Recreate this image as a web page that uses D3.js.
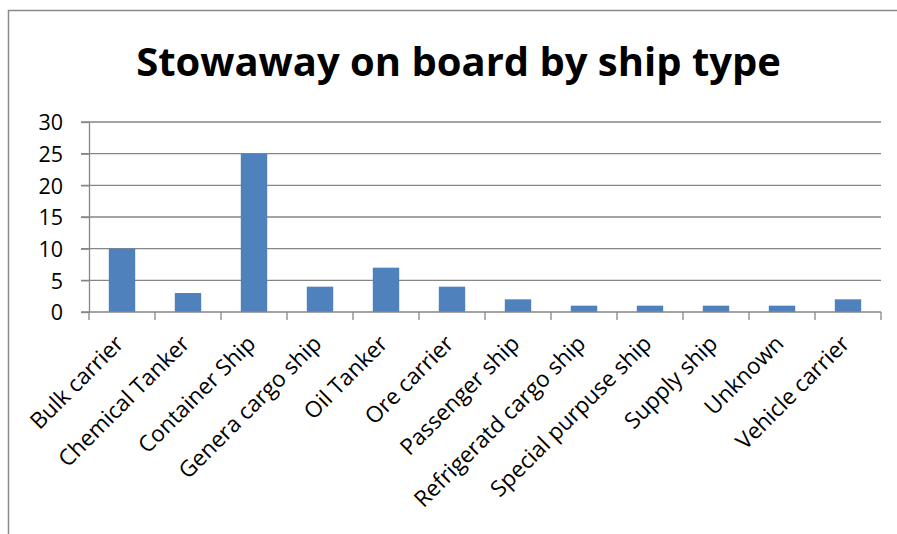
<!DOCTYPE html>
<html lang="en">
<head>
  <meta charset="utf-8">
  <title>Stowaway on board by ship type</title>
  <style>
  body { margin: 0; background: #fff; }
  .grid line { stroke: #868686; stroke-width: 1.3; }
  .axis path, .axis line { stroke: #868686; stroke-width: 1.3; }
  .axis text { font-family: "Open Sans", sans-serif; font-size: 21.5px; fill: #000; }
  .axis text.lbl { font-size: 22.5px; }
  </style>
  <script src="https://cdn.jsdelivr.net/npm/d3@7/dist/d3.min.js"></script>
</head>
<body>
  <svg width="897" height="534"></svg>
  <script>
  var categories = ["Bulk carrier", "Chemical Tanker", "Container Ship", "Genera cargo ship",
      "Oil Tanker", "Ore carrier", "Passenger ship", "Refrigeratd cargo ship",
      "Special purpuse ship", "Supply ship", "Unknown", "Vehicle carrier"];
  var values = [10, 3, 25, 4, 7, 4, 2, 1, 1, 1, 1, 2];
  var yTicks = [0, 5, 10, 15, 20, 25, 30];
  var title = "Stowaway on board by ship type";

  var svg = d3.select("svg"),
      plotLeft = 89, plotRight = 881, plotTop = 122, plotBottom = 312;

  // chart frame (left and top edges only visible)
  svg.append("path")
      .attr("d", "M8.5,534V10.5H897")
      .attr("fill", "none")
      .attr("stroke", "#8a8a8a")
      .attr("stroke-width", 1.5);

  var x = d3.scaleBand()
      .domain(categories)
      .range([plotLeft, plotRight])
      .paddingInner(0.6)
      .paddingOuter(0.3);

  var y = d3.scaleLinear()
      .domain([0, 30])
      .range([plotBottom, plotTop]);

  // horizontal gridlines
  svg.append("g")
      .attr("class", "grid")
      .selectAll("line")
      .data(yTicks.filter(function(d) { return d > 0; }))
      .enter().append("line")
        .attr("x1", plotLeft - 8)
        .attr("x2", plotRight)
        .attr("y1", function(d) { return y(d); })
        .attr("y2", function(d) { return y(d); });

  svg.append("g")
      .attr("fill", "#4f81bd")
      .selectAll("rect")
      .data(values)
      .enter().append("rect")
        .attr("x", function(d, i) { return x(categories[i]); })
        .attr("y", function(d) { return y(d); })
        .attr("width", x.bandwidth())
        .attr("height", function(d) { return y(0) - y(d); });

  // y axis
  var yAxis = svg.append("g")
      .attr("class", "axis")
      .attr("transform", "translate(" + plotLeft + ",0)")
      .call(d3.axisLeft(y).tickValues(yTicks).tickSizeInner(8).tickSizeOuter(0).tickPadding(18));
  yAxis.selectAll("text").attr("dy", "0.36em");

  // x axis: ticks on band boundaries
  var xAxis = svg.append("g")
      .attr("class", "axis")
      .attr("transform", "translate(0," + plotBottom + ")");
  xAxis.append("line")
      .attr("x1", plotLeft - 8).attr("x2", plotRight);
  xAxis.selectAll(".tk")
      .data(d3.range(categories.length + 1))
      .enter().append("line")
        .attr("class", "tk")
        .attr("x1", function(i) { return plotLeft + i * x.step(); })
        .attr("x2", function(i) { return plotLeft + i * x.step(); })
        .attr("y1", 0)
        .attr("y2", 8);
  xAxis.selectAll("text.lbl")
      .data(categories)
      .enter().append("text")
        .attr("class", "lbl")
        .attr("text-anchor", "end")
        .attr("transform", function(d) {
          var cx = x(d) + x.bandwidth() / 2;
          return "translate(" + (cx + 3) + ",33) rotate(-45)";
        })
        .text(function(d) { return d; });

  var t = svg.append("text")
      .attr("x", 458.5)
      .attr("y", 76)
      .attr("text-anchor", "middle")
      .attr("font-family", "'Open Sans', sans-serif")
      .attr("font-weight", "bold")
      .style("font-size", "40px")
      .text(title);
  var w = t.node().getComputedTextLength();
  t.style("font-size", (40 * 645 / w) + "px");
  </script>
</body>
</html>
